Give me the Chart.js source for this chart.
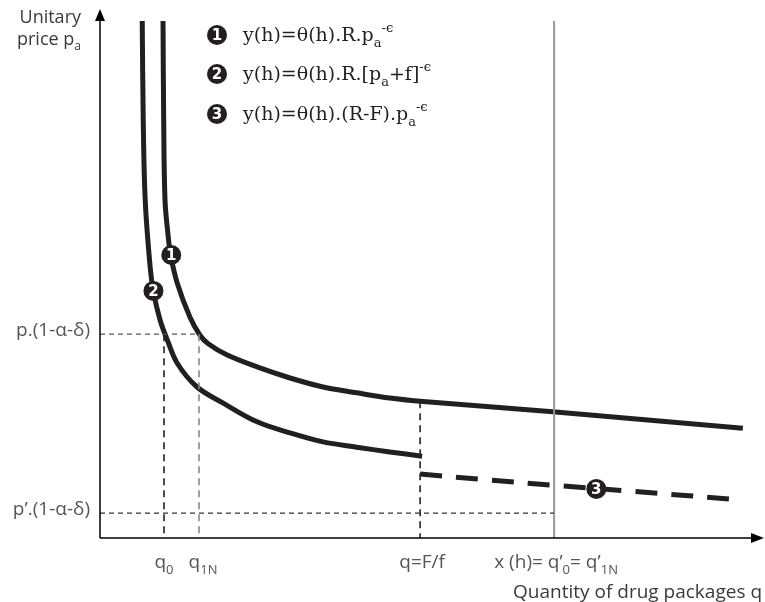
<!DOCTYPE html>
<html>
<head>
<meta charset="utf-8">
<script src="https://cdn.jsdelivr.net/npm/chart.js@4.4.1/dist/chart.umd.min.js"></script>
<style>
  body { margin: 0; background: #fff; }
  #wrap { width: 765px; height: 602px; }
</style>
</head>
<body>
<div id="wrap"><canvas id="demandChart" width="765" height="602"></canvas></div>
<script>
// Curve 1: y(h)=θ(h).R.pa^-ϵ  (quantity, price)
const curve1Q = [9.55, 9.65, 9.85, 10.3, 10.7, 11.7, 13.6, 15.15, 16.4, 19.2, 23.8, 28.8, 33.8, 38.9, 43.9, 48.5, 68.6, 97.4];
const curve1P = [97.9, 79.2, 64.0, 57.5, 53.6, 48.3, 41.9, 38.4, 36.8, 34.7, 32.4, 30.3, 28.6, 27.5, 26.5, 25.9, 23.9, 20.8];

// Curve 2: y(h)=θ(h).R.[pa+f]^-ϵ
const curve2Q = [6.4, 6.55, 6.85, 7.6, 8.1, 9.1, 10.2, 11.7, 14.7, 18.6, 23.8, 28.8, 33.8, 38.9, 43.9, 48.8];
const curve2P = [97.9, 79.2, 64.0, 51.3, 46.6, 41.3, 37.5, 33.1, 28.6, 25.6, 22.0, 19.9, 18.2, 17.2, 16.3, 15.5];

// Curve 3: y(h)=θ(h).(R-F).pa^-ϵ
const curve3Q = [48.5, 58.0, 68.6, 80.0, 97.4];
const curve3P = [12.1, 11.1, 10.0, 8.9, 7.2];

// Numbered markers on the curves
const markerLabels = ['1', '2', '3'];
const markerQ = [10.8, 8.1, 75.2];
const markerP = [53.6, 46.8, 9.3];

// Reference levels
const priceHigh = 38.6;   // p.(1-α-δ)
const priceLow = 4.7;     // p'.(1-α-δ)
const q0 = 9.7;
const q1N = 15.0;
const qFf = 48.5;         // q = F/f
const xH = 68.8;          // x(h) = q'0 = q'1N
const priceTop = 97.9;

const ink = '#231f20';

const toPoints = (xs, ys) => xs.map((x, i) => ({ x: x, y: ys[i] }));

const refLine = (pts, color, dash, width) => ({
    data: pts,
    borderColor: color,
    borderWidth: width || 1.3,
    borderDash: dash,
    pointRadius: 0,
    fill: false,
    tension: 0
});

const curveLine = (pts, dash) => ({
    data: pts,
    borderColor: ink,
    borderWidth: 5,
    borderDash: dash || [],
    pointRadius: 0,
    fill: false,
    tension: 0.35
});

// draw text made of normal / sub / sup pieces
const drawRich = (ctx, parts, x, y, size, family, color, align) => {
    const fontFor = (m) => (m === 'n' ? size : Math.round(size * 0.68)) + 'px ' + family;
    let total = 0;
    parts.forEach(p => { ctx.font = fontFor(p[1]); total += ctx.measureText(p[0]).width; });
    let cx = x;
    if (align === 'right') cx = x - total;
    if (align === 'center') cx = x - total / 2;
    ctx.fillStyle = color;
    ctx.textAlign = 'left';
    ctx.textBaseline = 'alphabetic';
    parts.forEach(p => {
        ctx.font = fontFor(p[1]);
        let dy = 0;
        if (p[1] === 'sub') dy = size * 0.3;
        if (p[1] === 'sup') dy = -size * 0.45;
        ctx.fillText(p[0], cx, y + dy);
        cx += ctx.measureText(p[0]).width;
    });
    return total;
};

const badge = (ctx, x, y, r, label) => {
    ctx.beginPath();
    ctx.arc(x, y, r, 0, Math.PI * 2);
    ctx.fillStyle = ink;
    ctx.fill();
    ctx.fillStyle = '#fff';
    ctx.font = 'bold ' + Math.round(r * 1.5) + 'px "DejaVu Sans", sans-serif';
    ctx.textAlign = 'center';
    ctx.textBaseline = 'middle';
    ctx.fillText(label, x, y + 1);
};

const diagramPlugin = {
    id: 'diagram',
    afterDraw(chart) {
        const ctx = chart.ctx;
        const xs = chart.scales.x;
        const ys = chart.scales.y;
        const x0 = xs.getPixelForValue(0);
        const y0 = ys.getPixelForValue(0);
        const sans = '"Open Sans", sans-serif';
        const serif = '"DejaVu Serif", serif';
        const fs = 19;
        ctx.save();

        // axes with arrows
        ctx.strokeStyle = '#000';
        ctx.lineWidth = 1.5;
        ctx.beginPath();
        ctx.moveTo(x0, y0);
        ctx.lineTo(x0, 18);
        ctx.moveTo(x0, y0);
        ctx.lineTo(752, y0);
        ctx.stroke();
        ctx.fillStyle = '#000';
        ctx.beginPath();
        ctx.moveTo(x0, 9); ctx.lineTo(x0 - 5, 21); ctx.lineTo(x0 + 5, 21); ctx.closePath();
        ctx.fill();
        ctx.beginPath();
        ctx.moveTo(764, y0); ctx.lineTo(751, y0 - 5); ctx.lineTo(751, y0 + 5); ctx.closePath();
        ctx.fill();

        // numbered badges on curves
        markerLabels.forEach((lab, i) => {
            badge(ctx, xs.getPixelForValue(markerQ[i]), ys.getPixelForValue(markerP[i]), 10, lab);
        });

        // formulas in the top legend
        const legendX = 217, textX = 243;
        const formulas = [
            [['y(h)=θ(h).R.p', 'n'], ['a', 'sub'], ['-ϵ', 'sup']],
            [['y(h)=θ(h).R.[p', 'n'], ['a', 'sub'], ['+f]', 'n'], ['-ϵ', 'sup']],
            [['y(h)=θ(h).(R-F).p', 'n'], ['a', 'sub'], ['-ϵ', 'sup']]
        ];
        const rowY = [35, 74, 114];
        formulas.forEach((f, i) => {
            badge(ctx, legendX, rowY[i], 10, markerLabels[i]);
            drawRich(ctx, f, textX, rowY[i] + 6, 19, serif, ink, 'left');
        });

        // y axis title
        const labelColor = '#3a3a3a';
        drawRich(ctx, [['Unitary', 'n']], 81, 23, 18, sans, labelColor, 'right');
        drawRich(ctx, [['price p', 'n'], ['a', 'sub']], 81, 45, 18, sans, labelColor, 'right');

        // y tick labels
        const tickColor = '#555';
        drawRich(ctx, [['p.(1-α-δ)', 'n']], 90, ys.getPixelForValue(priceHigh) + 2, fs, sans, tickColor, 'right');
        drawRich(ctx, [['p’.(1-α-δ)', 'n']], 90, ys.getPixelForValue(priceLow) + 2, fs, sans, tickColor, 'right');

        // x tick labels
        const tickY = y0 + 30;
        drawRich(ctx, [['q', 'n'], ['0', 'sub']], xs.getPixelForValue(q0), tickY, fs, sans, tickColor, 'center');
        drawRich(ctx, [['q', 'n'], ['1N', 'sub']], xs.getPixelForValue(q1N) + 4, tickY, fs, sans, tickColor, 'center');
        drawRich(ctx, [['q=F/f', 'n']], xs.getPixelForValue(qFf) + 2, tickY, fs, sans, tickColor, 'center');
        drawRich(ctx, [['x (h)= q’', 'n'], ['0', 'sub'], ['= q’', 'n'], ['1N', 'sub']], xs.getPixelForValue(xH) + 2, tickY, fs, sans, tickColor, 'center');

        // x axis title
        drawRich(ctx, [['Quantity of drug packages q', 'n']], 762, y0 + 60, fs, sans, labelColor, 'right');

        ctx.restore();
    }
};

const ctx = document.getElementById('demandChart').getContext('2d');
new Chart(ctx, {
    type: 'line',
    data: {
        datasets: [
            refLine([{ x: 0, y: priceHigh }, { x: q1N, y: priceHigh }], '#555', [5, 4]),
            refLine([{ x: 0, y: priceLow }, { x: xH, y: priceLow }], '#333', [5, 4]),
            refLine([{ x: q0, y: priceHigh }, { x: q0, y: 0 }], '#222', [7, 5], 1.6),
            refLine([{ x: q1N, y: priceHigh }, { x: q1N, y: 0 }], '#888', [7, 5], 1.6),
            refLine([{ x: qFf, y: 25.9 }, { x: qFf, y: 0 }], '#222', [7, 5], 1.6),
            refLine([{ x: xH, y: priceTop }, { x: xH, y: 0 }], '#999', [], 2),
            curveLine(toPoints(curve1Q, curve1P)),
            curveLine(toPoints(curve2Q, curve2P)),
            curveLine(toPoints(curve3Q, curve3P), [22, 14])
        ]
    },
    options: {
        responsive: false,
        animation: false,
        events: [],
        layout: { padding: { left: 100, top: 10, right: 5, bottom: 64 } },
        plugins: { legend: { display: false }, tooltip: { enabled: false } },
        scales: {
            x: { type: 'linear', min: 0, max: 100, display: false },
            y: { type: 'linear', min: 0, max: 100, display: false }
        }
    },
    plugins: [diagramPlugin]
});
</script>
</body>
</html>
